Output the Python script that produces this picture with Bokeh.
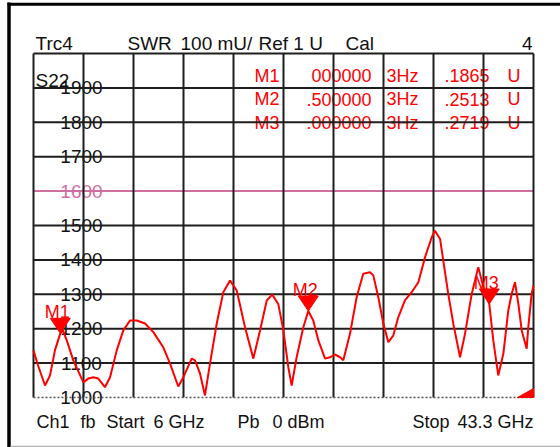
from bokeh.plotting import figure
from bokeh.models import Range1d
from bokeh.embed import file_html
from bokeh.resources import INLINE
from bokeh.core.properties import value

# ---------------- data ----------------
freq_ghz = [6.00, 6.34, 6.86, 7.23, 7.60, 8.00, 8.20, 8.48, 8.97, 9.72, 10.09, 10.46, 10.83,
            11.33, 11.71, 12.21, 12.70, 13.20, 13.70, 14.32, 14.94, 15.68, 16.18, 16.80,
            17.18, 17.80, 18.05, 18.42, 18.79, 19.17, 19.67, 20.16, 20.66, 21.16, 21.78,
            22.40, 22.90, 23.40, 23.81, 24.26, 24.64, 25.01, 25.26, 25.63, 26.13, 26.50,
            26.87, 27.25, 27.75, 28.12, 28.49, 28.87, 29.11, 29.61, 30.11, 30.60, 31.10,
            31.35, 31.72, 32.10, 32.47, 32.84, 33.21, 33.71, 34.21, 34.71, 35.21, 35.71,
            35.95, 36.33, 36.57, 36.94, 37.32, 37.82, 38.19, 38.69, 39.18, 39.56, 40.00,
            40.30, 40.67, 41.05, 41.42, 41.67, 41.92, 42.17, 42.42, 42.79, 42.91, 43.16, 43.30]
swr_mu = [1137, 1093, 1035, 1064, 1137, 1186.5, 1195, 1166, 1108, 1044, 1055, 1059, 1055,
          1030, 1059, 1137, 1195, 1224, 1224, 1215, 1190, 1146, 1099, 1032,
          1059, 1113, 1108, 1070, 1006, 1099, 1215, 1306, 1340, 1311, 1204,
          1113, 1195, 1282, 1299, 1272, 1195, 1088, 1035, 1117, 1204, 1251.3,
          1224, 1166, 1113, 1117, 1125, 1117, 1108, 1185, 1292, 1360, 1364,
          1355, 1292, 1214, 1161, 1180, 1233, 1282, 1306, 1335, 1408, 1466,
          1485, 1461, 1398, 1301, 1214, 1117, 1185, 1301, 1379, 1321, 1271.9,
          1166, 1064, 1127, 1253, 1301, 1335, 1272, 1195, 1142, 1204, 1301, 1325]

marker_names = ["M1", "M2", "M3"]
marker_freq = [8.0, 26.5, 40.0]
marker_swr = [1186.5, 1251.3, 1271.9]
marker_freq_text = ["000000", ".500000", ".000000"]
marker_unit_text = ["3Hz", "3Hz", "3Hz"]
marker_value_text = [".1865", ".2513", ".2719"]
marker_u_text = ["U", "U", "U"]

y_tick_values = [1000, 1100, 1200, 1300, 1400, 1500, 1600, 1700, 1800, 1900]
y_tick_labels = ["1000", "1100", "1200", "1300", "1400", "1500", "1600", "1700", "1800", "1900"]
ref_line_value = 1600

f_start, f_stop = 6.0, 43.3
y_bottom, y_top = 1000, 2000
x_divisions = 10

header_left_texts = ["Trc4", "SWR", "100 mU/", "Ref 1 U", "Cal"]
header_right_text = "4"
footer_left_texts = ["Ch1", "fb", "Start", "6 GHz", "Pb", "0 dBm", "Stop"]
footer_right_text = "43.3 GHz"
trace_name = "S22"

# ---------------- layout helpers (page pixels -> data) ----------------
W, H = 560, 447
PX0, PY0, FW, FH = 33, 53, 500, 344


def dx(px):
    return f_start + (px - PX0) / FW * (f_stop - f_start)


def dy(py):
    return y_bottom + (PY0 + FH - py) / FH * (y_top - y_bottom)


UX = (f_stop - f_start) / FW   # data per px (x)
UY = (y_top - y_bottom) / FH   # data per px (y)

FONT = value("Liberation Sans")
FS = "18px"
RED = "#ff0000"
PINK = "#cf6fa0"
INK = "#111111"
GRID = "#1e1e1e"

p = figure(width=W, height=H,
           x_range=Range1d(dx(0), dx(W)), y_range=Range1d(dy(H), dy(0)),
           x_axis_type=None, y_axis_type=None,
           toolbar_location=None, output_backend="svg",
           min_border=0, min_border_left=0, min_border_right=0,
           min_border_top=0, min_border_bottom=0)
p.outline_line_color = None
p.background_fill_color = "white"
p.border_fill_color = "white"

xticks = [f_start + i * (f_stop - f_start) / x_divisions for i in range(x_divisions + 1)]
yticks = y_tick_values[1:] + [y_top]


def txt(xs, ys, texts, color=INK, align="left", baseline="alphabetic", size=FS):
    p.text(x=xs, y=ys, text=texts, text_font=FONT, text_font_size=size, text_color=color,
           text_align=align, text_baseline=baseline)


# ---- texts (drawn first, grid goes over them) ----
tick_colors = [PINK if v == ref_line_value else INK for v in y_tick_values]
p.text(x=[dx(81)] * len(y_tick_values), y=y_tick_values, text=y_tick_labels,
       text_font=FONT, text_font_size="19px", text_color=tick_colors,
       text_align="center", text_baseline="middle")

txt([dx(35)], [dy(80)], [trace_name], size="19px")

header_x = [35, 127, 180, 258, 345]
txt([dx(v) for v in header_x], [dy(43)] * len(header_x), header_left_texts, size="19px")
txt([dx(532)], [dy(43)], [header_right_text], align="right", size="19px")

footer_x = [36, 80, 106, 153, 237, 272, 412]
txt([dx(v) for v in footer_x], [dy(421)] * len(footer_x), footer_left_texts)
txt([dx(533)], [dy(421)], [footer_right_text], align="right")

row_y = [dy(v) for v in [75, 98.5, 122]]
txt([dx(254)] * 3, row_y, marker_names, color=RED)
txt([dx(371)] * 3, row_y, marker_freq_text, color=RED, align="right")
txt([dx(386)] * 3, row_y, marker_unit_text, color=RED)
txt([dx(489)] * 3, row_y, marker_value_text, color=RED, align="right")
txt([dx(507)] * 3, row_y, marker_u_text, color=RED)

# ---- grid ----
p.segment(x0=[f_start] * len(yticks), x1=[f_stop] * len(yticks), y0=yticks, y1=yticks,
          line_color=GRID, line_width=2)
# reference line
p.segment(x0=[f_start], x1=[f_stop], y0=[ref_line_value], y1=[ref_line_value],
          line_color=PINK, line_width=2)
p.segment(x0=xticks, x1=xticks, y0=[y_bottom] * len(xticks), y1=[y_top] * len(xticks),
          line_color=GRID, line_width=2)
# dotted bottom edge
p.segment(x0=[f_start], x1=[f_stop], y0=[y_bottom], y1=[y_bottom],
          line_color="#555555", line_width=1.5, line_dash="2 2")

# ---- trace ----
p.line(freq_ghz, swr_mu, line_color=RED, line_width=2)

# marker triangles and labels
tri_xs = [[f - 10 * UX, f + 10 * UX, f] for f in marker_freq]
tri_ys = [[v + 15 * UY, v + 15 * UY, v] for v in marker_swr]
p.patches(tri_xs, tri_ys, fill_color=RED, line_color=RED)
txt([f - 3 * UX for f in marker_freq], [v + 21 * UY for v in marker_swr], marker_names,
    color=RED, align="center")

# reference position indicator (bottom right)
p.patch([dx(517), f_stop, f_stop], [y_bottom, y_bottom, dy(388)], fill_color=RED, line_color=RED)

# ---- screen frame borders ----
p.segment(x0=[dx(8.5)], x1=[dx(8.5)], y0=[dy(2)], y1=[dy(H)], line_color="#000000", line_width=3.5)
p.segment(x0=[dx(7)], x1=[dx(W)], y0=[dy(3.8)], y1=[dy(3.8)], line_color="#000000", line_width=3)
p.segment(x0=[dx(10)], x1=[dx(W)], y0=[dy(446)], y1=[dy(446)], line_color="#b4b4b4", line_width=1.5)

open("out.html", "w").write(file_html(p, INLINE))
